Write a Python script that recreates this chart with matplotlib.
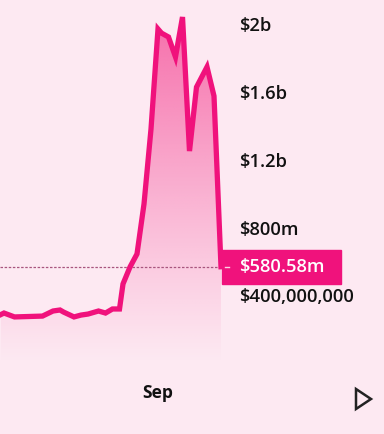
import numpy as np
import pandas as pd
import matplotlib
matplotlib.use("Agg")
import matplotlib.pyplot as plt
import matplotlib.dates as mdates
from matplotlib.colors import to_rgb
from matplotlib.patches import Polygon

# ---- data (values in millions of USD) ----
day_offsets = [-45, -44, -41, -33, -30, -28, -27, -24, -22, -20, -17, -15, -13, -11,
               -10, -8, -6, -4, -2, 0, 1, 3, 5, 7, 9, 11, 14, 16, 18]
values_m = [297, 307, 284, 289, 319, 325, 313, 284, 295, 301, 319, 307, 331, 331,
            479, 579, 656, 951, 1394, 1985, 1961, 1938, 1820, 2056, 1264, 1642, 1761, 1589, 580.58]
y_ticks_m = [400, 800, 1200, 1600, 2000]
y_tick_labels = ["$400,000,000", "$800m", "$1.2b", "$1.6b", "$2b"]
last_label = "$580.58m"
month_label = "Sep"

base = pd.Timestamp("2023-09-01")
dates = [base + pd.Timedelta(days=d) for d in day_offsets]
x = mdates.date2num(dates)
y = np.array(values_m, dtype=float)

BG = "#fde9f2"
LINE = "#f0127c"

W, H = 384, 434
fig = plt.figure(figsize=(W / 100, H / 100), dpi=100, facecolor=BG)
ax = fig.add_axes([0, 0, 1, 1])
ax.set_facecolor(BG)
for s in ax.spines.values():
    s.set_visible(False)
ax.set_xticks([])
ax.set_yticks([])

# pixel mapping: px 158 == Sep 1, 3.5 px per day
px_per_day = 3.5
x0 = mdates.date2num(base) - 158 / px_per_day
x1 = x0 + W / px_per_day
# y: value 0 at px 365 from top, 67.7 px per 400m
ppm = 67.7 / 400
zero_px = 365
ytop = zero_px / ppm
ybot = -(H - zero_px) / ppm
ax.set_xlim(x0, x1)
ax.set_ylim(ybot, ytop)

# gradient fill under line
grad_top = 2100
grad_bot = 10
n = 256
cols = np.zeros((n, 1, 4))
c = to_rgb("#f5559c")
for i in range(n):
    t = i / (n - 1)  # 0 top -> 1 bottom
    cols[i, 0, :3] = c
    cols[i, 0, 3] = 0.85 * (1 - t) ** 1.1
im = ax.imshow(cols, extent=[x[0], x[-1], grad_bot, grad_top], aspect="auto",
               origin="upper", zorder=1, interpolation="bilinear")
poly = Polygon(np.column_stack([np.r_[x, x[-1], x[0]], np.r_[y, grad_bot, grad_bot]]),
               closed=True, transform=ax.transData, facecolor="none", edgecolor="none")
ax.add_patch(poly)
im.set_clip_path(poly)

# line
ax.plot(x, y, color=LINE, lw=3.8, solid_joinstyle="miter", zorder=3)

# dotted current-price line
ax.plot([x0, x[-1]], [y[-1], y[-1]], color="#a8557e", lw=0.9, ls=(0, (2, 1.3)), zorder=2)

font = "Open Sans"
label_x = 239 / W
for v, lab in zip(y_ticks_m, y_tick_labels):
    ax.text(label_x, v, lab, transform=ax.get_yaxis_transform(), ha="left", va="center",
            fontsize=13.2, fontweight="semibold", color="#111111", family=font)

# last value box
bx0, bx1 = 222 / W, 341 / W
h_m = 17 / ppm
ax.add_patch(plt.Rectangle((bx0, y[-1] - h_m), bx1 - bx0, 2 * h_m,
                           transform=ax.get_yaxis_transform(), color=LINE, zorder=4,
                           clip_on=False))
ax.plot([225 / W, 229 / W], [y[-1], y[-1]], transform=ax.get_yaxis_transform(),
        color="#fbd2e4", lw=1, zorder=5)
ax.text(label_x, y[-1], last_label, transform=ax.get_yaxis_transform(), ha="left",
        va="center", fontsize=13.2, fontweight="semibold", color="white", family=font, zorder=6)

# month label
ax.text(158 / W, 1 - 393 / H, month_label, transform=ax.transAxes, ha="center", va="center",
        fontsize=12.5, fontweight="bold", color="#111111", family=font)

# play triangle
tri = Polygon([[356 / W, 1 - 389 / H], [356 / W, 1 - 409 / H], [371 / W, 1 - 399 / H]],
              closed=True, transform=ax.transAxes, facecolor="none", edgecolor="#222222",
              lw=1.8, joinstyle="miter")
ax.add_patch(tri)

fig.savefig("out.png", dpi=100, facecolor=BG)
